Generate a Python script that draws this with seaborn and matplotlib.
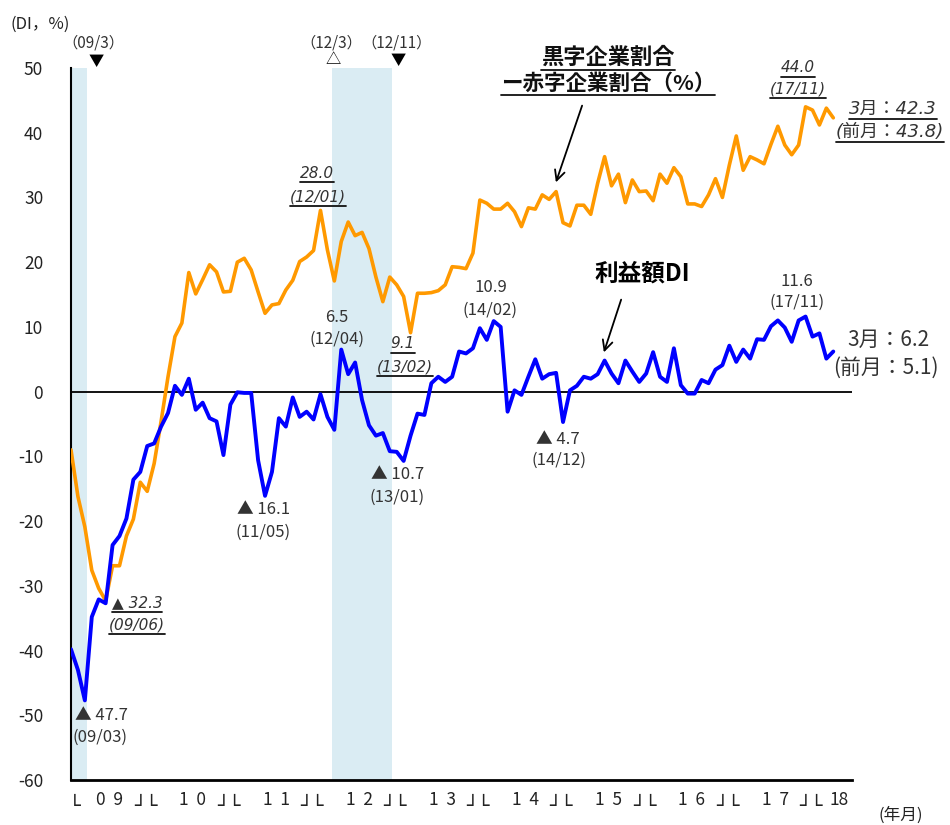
import numpy as np
import pandas as pd
import matplotlib
matplotlib.use("Agg")
import matplotlib.pyplot as plt
import matplotlib.transforms as mtransforms
from matplotlib.lines import Line2D
import seaborn as sns

# ---------------- data ----------------
months = pd.period_range("2009-01", "2018-03", freq="M").strftime("%y/%m").tolist()

# 黒字企業割合－赤字企業割合 (%)
surplus_minus_deficit = [
    -9.0, -16.2, -20.9, -27.6, -30.4, -32.3, -26.9, -26.9, -22.3, -19.7, -14.0, -15.4,
    -11.1, -4.6, 2.3, 8.5, 10.6, 18.4, 15.1, 17.3, 19.6, 18.5, 15.4, 15.5,
    20.0, 20.6, 18.8, 15.4, 12.1, 13.4, 13.6, 15.7, 17.2, 20.1, 20.8, 21.8,
    28.0, 21.9, 17.1, 23.2, 26.2, 24.1, 24.6, 22.1, 17.7, 13.9, 17.7, 16.5,
    14.7, 9.1, 15.2, 15.2, 15.3, 15.6, 16.5, 19.3, 19.2, 19.0, 21.4, 29.6,
    29.1, 28.2, 28.2, 29.1, 27.8, 25.5, 28.4, 28.2, 30.4, 29.7, 30.9, 26.1,
    25.6, 28.8, 28.8, 27.4, 32.2, 36.3, 31.8, 33.6, 29.2, 32.7, 30.9, 31.0,
    29.5, 33.6, 32.2, 34.6, 33.2, 29.0, 29.0, 28.6, 30.4, 32.9, 30.0, 35.0,
    39.5, 34.2, 36.3, 35.8, 35.2, 38.2, 41.0, 38.1, 36.6, 38.1, 44.0, 43.5,
    41.2, 43.8, 42.3,
]

# 利益額DI
profit_di = [
    -39.8, -43.0, -47.7, -34.8, -32.1, -32.7, -23.7, -22.3, -19.6, -13.6, -12.4, -8.4,
    -8.0, -5.4, -3.3, 0.9, -0.5, 2.0, -2.8, -1.7, -4.1, -4.6, -9.8, -2.0,
    -0.1, -0.2, -0.2, -10.6, -16.1, -12.4, -4.1, -5.4, -0.9, -3.9, -3.1, -4.3,
    -0.4, -3.9, -5.9, 6.5, 2.7, 4.5, -1.3, -5.2, -6.8, -6.4, -9.2, -9.3,
    -10.7, -6.8, -3.4, -3.6, 1.3, 2.3, 1.5, 2.3, 6.2, 5.9, 6.7, 9.8,
    8.0, 10.9, 10.0, -3.1, 0.2, -0.5, 2.3, 5.0, 2.0, 2.7, 2.9, -4.7,
    0.2, 0.9, 2.3, 2.0, 2.7, 4.8, 2.8, 1.3, 4.8, 3.1, 1.5, 2.8,
    6.1, 2.3, 1.5, 6.7, 1.0, -0.3, -0.3, 1.8, 1.3, 3.4, 4.1, 7.1,
    4.6, 6.5, 5.1, 8.1, 8.0, 10.1, 11.0, 9.9, 7.7, 11.0, 11.6, 8.5,
    9.0, 5.1, 6.2,
]

year_labels = ["0  9", "1  0", "1  1", "1  2", "1  3", "1  4", "1  5", "1  6", "1  7"]
last_year_label = "18"
y_ticks = list(range(-60, 51, 10))
shade_months = [("09/01", "09/03"), ("12/03", "12/11")]

# ---------------- style ----------------
sns.set_style("white")
plt.rcParams["font.family"] = ["Noto Sans CJK JP", "DejaVu Sans"]
plt.rcParams["axes.unicode_minus"] = False

W, H = 950, 825
fig = plt.figure(figsize=(W / 100, H / 100), dpi=100)
ax = fig.add_axes([71 / W, 1 - 780 / H, 781 / W, 712 / H])

df = pd.DataFrame({
    "idx": np.arange(len(months)),
    "surplus": surplus_minus_deficit,
    "profit": profit_di,
})

# recession shading
for a, b in shade_months:
    ia, ib = months.index(a), months.index(b)
    ax.axvspan(ia - 0.4 if ia > 0 else 0, ib + 0.3, color="#DAECF3", lw=0, zorder=0)

ax.axhline(0, color="black", lw=1.3, zorder=1)
sns.lineplot(data=df, x="idx", y="surplus", color="#FF9900", lw=2.6, ax=ax, zorder=3)
sns.lineplot(data=df, x="idx", y="profit", color="#0000FF", lw=2.8, ax=ax, zorder=4)

ax.set_xlim(0, 112.7)
ax.set_ylim(-60, 50)
ax.set_xlabel("")
ax.set_ylabel("")
for s in ["top", "right"]:
    ax.spines[s].set_visible(False)
ax.spines["left"].set_color("black")
ax.spines["left"].set_linewidth(1.5)
ax.spines["bottom"].set_color("black")
ax.spines["bottom"].set_linewidth(2.0)
ax.set_yticks(y_ticks)
ax.set_yticklabels([str(v) for v in y_ticks], fontsize=12.5, color="#222222")
ax.tick_params(axis="y", direction="in", length=6, width=1.2, pad=20, colors="black", labelcolor="#222222")
ax.set_xticks(np.arange(0, 113))
ax.tick_params(axis="x", direction="in", length=5, width=1, labelbottom=False, colors="black")

# ---------------- text helpers ----------------
def T(x, y, s, size=12, color="#333333", ha="center", va="center", **kw):
    return fig.text(x / W, 1 - y / H, s, fontsize=size, color=color, ha=ha, va=va, **kw)

ITAL = dict(family=["DejaVu Sans", "Noto Sans CJK JP"], style="italic")
BOX = dict(family=["DejaVu Sans"])
underlined = []

# x-axis category labels
bt = mtransforms.blended_transform_factory(ax.transData, fig.transFigure)
for k, lab in enumerate(year_labels):
    ax.text(12 * k + 5.6, 1 - 800 / H, lab, transform=bt, ha="center", va="center",
            fontsize=12.5, color="#222222")
    if k == 0:
        ax.text(0.5, 1 - 812 / H, "└", transform=bt, ha="center", va="baseline",
                fontsize=14, color="#222222", **BOX)
for k in range(1, len(year_labels) + 1):
    ax.text(12 * k - 1.25, 1 - 812 / H, "┘└", transform=bt, ha="center", va="baseline",
            fontsize=14, color="#222222", **BOX)
ax.text(110.9, 1 - 800 / H, last_year_label, transform=bt, ha="center", va="center",
        fontsize=12.5, color="#222222")
T(901, 815, "(年月)", size=12, color="#222222")
T(10, 24, "(DI，%)", size=12, color="#222222", ha="left")

# top markers
T(93, 43, "（09/3）", size=11)
T(96, 61, "▼", size=11, color="black")
T(331, 43, "（12/3）", size=11)
T(333, 60, "△", size=11, color="black")
T(397, 43, "（12/11）", size=11)
T(398, 60, "▼", size=11, color="black")

# blue annotations
T(101, 715, "▲ 47.7")
T(100, 737, "(09/03)")
T(264, 510, "▲ 16.1")
T(263, 532, "(11/05)")
T(337, 317, "6.5")
T(337, 339, "(12/04)")
T(398, 474, "▲ 10.7")
T(397, 497, "(13/01)")
T(491, 287, "10.9")
T(490, 310, "(14/02)")
T(558, 439, "▲ 4.7")
T(559, 460, "(14/12)")
T(797, 281, "11.6")
T(797, 302, "(17/11)")
T(888, 340, "3月：6.2", size=15)
T(886, 368, "(前月：5.1)", size=15)
T(642, 274, "利益額DI", size=17, color="black", weight="bold")

# orange annotations (italic, underlined)
underlined += [
    T(137, 603, "▲ 32.3", size=11, **ITAL),
    T(137, 625, "(09/06)", size=11, **ITAL),
    T(317, 173, "28.0", size=11, **ITAL),
    T(318, 197, "(12/01)", size=11, **ITAL),
    T(403, 344, "9.1", size=11, **ITAL),
    T(405, 367, "(13/02)", size=11, **ITAL),
    T(798, 68, "44.0", size=11, **ITAL),
    T(798, 89, "(17/11)", size=11, **ITAL),
    T(893, 109, "3月：42.3", size=13, **ITAL),
    T(890, 132, "(前月：43.8)", size=13, **ITAL),
    T(608, 57, "黒字企業割合", size=16, color="#111111", weight="bold"),
    T(608, 83, "ー赤字企業割合（%）", size=15.5, color="#111111", weight="bold"),
]

# arrows
ax.annotate("", xy=(555 / W, 1 - 185 / H), xytext=(583 / W, 1 - 103 / H),
            xycoords="figure fraction", textcoords="figure fraction",
            arrowprops=dict(arrowstyle="->", color="black", lw=1.3, mutation_scale=18))
ax.annotate("", xy=(603 / W, 1 - 355 / H), xytext=(622 / W, 1 - 297 / H),
            xycoords="figure fraction", textcoords="figure fraction",
            arrowprops=dict(arrowstyle="->", color="black", lw=1.3, mutation_scale=18))

# underlines
fig.canvas.draw()
r = fig.canvas.get_renderer()
for t in underlined:
    bb = t.get_window_extent(r)
    fig.add_artist(Line2D([bb.x0 / W, bb.x1 / W], [(bb.y0 - 1) / H] * 2,
                          transform=fig.transFigure, color="#111111", lw=1.3))

fig.savefig("out.png", dpi=100)
